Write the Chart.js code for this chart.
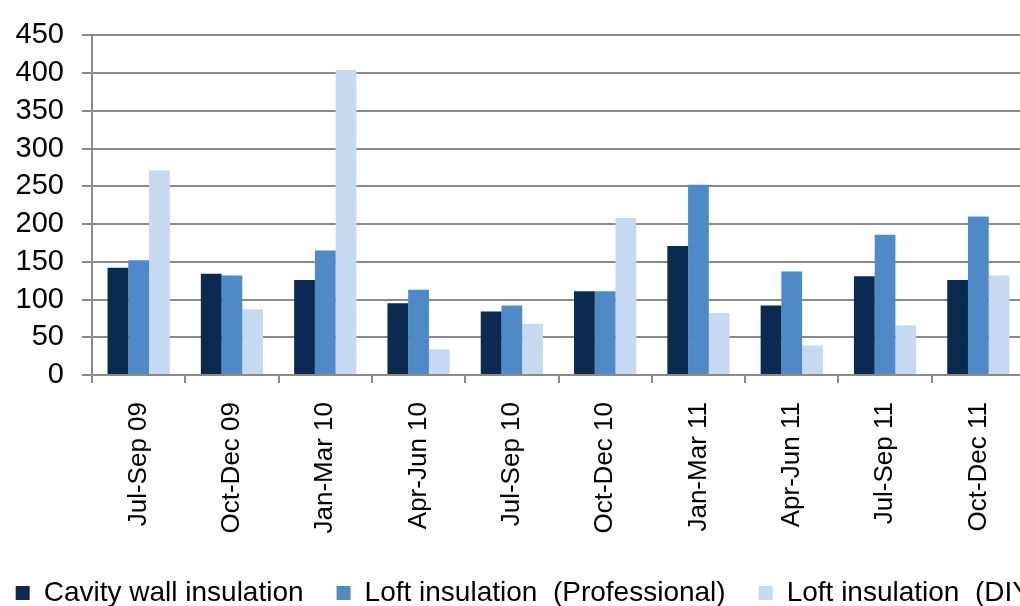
<!DOCTYPE html>
<html>
<head>
<meta charset="utf-8">
<script src="https://cdn.jsdelivr.net/npm/chart.js@4/dist/chart.umd.min.js"></script>
<style>
  html, body { margin: 0; padding: 0; background: #fff; }
  #wrap { width: 1020px; height: 606px; overflow: hidden; position: relative; }
  #myChart { position: absolute; left: -22px; top: 0; }
</style>
</head>
<body>
<div id="wrap"><canvas id="myChart" width="1100" height="617"></canvas></div>
<script>
const quarters = ['Jul-Sep 09', 'Oct-Dec 09', 'Jan-Mar 10', 'Apr-Jun 10', 'Jul-Sep 10',
  'Oct-Dec 10', 'Jan-Mar 11', 'Apr-Jun 11', 'Jul-Sep 11', 'Oct-Dec 11'];
const cavityWall = [142, 134, 126, 95, 84, 111, 171, 92, 131, 126];
const loftPro = [152, 132, 165, 113, 92, 111, 252, 137, 186, 210];
const loftDiy = [271, 87, 404, 34, 68, 208, 82, 39, 66, 132];

const gridGrey = '#8a8a8a';
const font = 'Liberation Sans, Arial, sans-serif';

const ctx = document.getElementById('myChart').getContext('2d');

new Chart(ctx, {
  type: 'bar',
  data: {
    labels: quarters,
    datasets: [{
      label: 'Cavity wall insulation',
      data: cavityWall,
      backgroundColor: '#0a2a50',
    }, {
      label: 'Loft insulation  (Professional)',
      data: loftPro,
      backgroundColor: '#4f8ac8',
    }, {
      label: 'Loft insulation  (DIY)',
      data: loftDiy,
      backgroundColor: '#c6d9f0',
    }]
  },
  options: {
    responsive: false,
    animation: false,
    layout: {
      padding: { top: 32, left: 0, right: 0, bottom: 0 }
    },
    datasets: {
      bar: {
        barPercentage: 1,
        categoryPercentage: 0.667,
      }
    },
    scales: {
      y: {
        min: 0,
        max: 450,
        afterFit: (s) => { s.width = 114; },
        ticks: {
          stepSize: 50,
          autoSkip: false,
          padding: 18,
          color: '#000',
          font: { family: font, size: 29 }
        },
        grid: {
          color: gridGrey,
          lineWidth: 2,
          tickLength: 10,
        },
        border: { color: gridGrey, width: 2 }
      },
      // empty right axis, only keeps room on the right like the original
      yRight: {
        type: 'linear',
        position: 'right',
        afterFit: (s) => { s.width = 53; },
        ticks: { display: false },
        grid: { display: false },
        border: { display: false }
      },
      x: {
        afterFit: (s) => { s.height = 171; },
        ticks: {
          minRotation: 90,
          maxRotation: 90,
          autoSkip: false,
          padding: 19,
          color: '#000',
          font: { family: font, size: 26 }
        },
        grid: {
          drawOnChartArea: false,
          color: gridGrey,
          lineWidth: 2,
          tickLength: 8,
        },
        border: { color: gridGrey, width: 2 }
      }
    },
    plugins: {
      legend: {
        position: 'bottom',
        labels: {
          boxWidth: 14,
          boxHeight: 14,
          padding: 33,
          color: '#000',
          font: { family: font, size: 28 }
        }
      },
      tooltip: { enabled: false }
    },
  }
});
</script>
</body>
</html>
